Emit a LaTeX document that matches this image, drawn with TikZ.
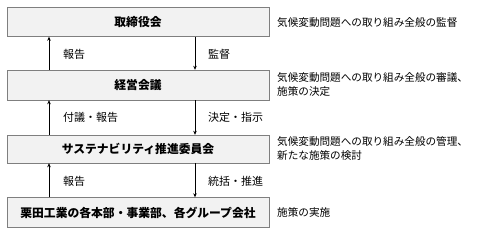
\documentclass[tikz,border=0pt]{standalone}
\usepackage{fontspec}
\setmainfont{Noto Sans CJK JP}
\usetikzlibrary{arrows.meta}
\definecolor{boxfill}{HTML}{F2F2F2}
\definecolor{boxline}{HTML}{7F7F7F}
\tikzset{
  orgbox/.style={draw=boxline,fill=boxfill,minimum width=262pt,inner sep=0pt,font=\fontsize{11.8pt}{14pt}\selectfont\bfseries},
  note/.style={anchor=west,align=left,inner sep=0pt,font=\fontsize{10.6pt}{14pt}\selectfont},
  flowlabel/.style={anchor=west,inner sep=0pt,font=\fontsize{11pt}{13pt}\selectfont},
  flow/.style={-{Stealth[length=4pt,width=3.5pt]},semithick}
}
\begin{document}
\begin{tikzpicture}[x=1pt,y=-1pt]
\useasboundingbox (0,0) rectangle (485,234);
% organisation boxes
\node[orgbox,minimum height=29pt] (board) at (138,22) {取締役会};
\node[orgbox,minimum height=30pt] (mgmt) at (138,85) {経営会議};
\node[orgbox,minimum height=28pt] (susc) at (138,149) {サステナビリティ推進委員会};
\node[orgbox,minimum height=30pt] (units) at (138,212.5) {栗田工業の各本部・事業部、各グループ会社};
% roles
\node[note] (rboard) at (277,22) {気候変動問題への取り組み全般の監督};
\node[note] (rmgmt) at (277,84) {気候変動問題への取り組み全般の審議、\\施策の決定};
\node[note] (rsusc) at (277,148) {気候変動問題への取り組み全般の管理、\\新たな施策の検討};
\node[note] (runits) at (277,212.5) {施策の実施};
% arrows between levels
\coordinate (upx) at (49,0);
\coordinate (dnx) at (195,0);
\draw[flow] (mgmt.north -| upx) -- (board.south -| upx);
\draw[flow] (board.south -| dnx) -- (mgmt.north -| dnx);
\draw[flow] (susc.north -| upx) -- (mgmt.south -| upx);
\draw[flow] (mgmt.south -| dnx) -- (susc.north -| dnx);
\draw[flow] (units.north -| upx) -- (susc.south -| upx);
\draw[flow] (susc.south -| dnx) -- (units.north -| dnx);
% arrow labels
\node[flowlabel] (l1) at (63,54) {報告};
\node[flowlabel] (l2) at (208,54) {監督};
\node[flowlabel] (l3) at (63,117) {付議・報告};
\node[flowlabel] (l4) at (208,117) {決定・指示};
\node[flowlabel] (l5) at (63,181) {報告};
\node[flowlabel] (l6) at (208,181) {統括・推進};
\end{tikzpicture}
\end{document}
